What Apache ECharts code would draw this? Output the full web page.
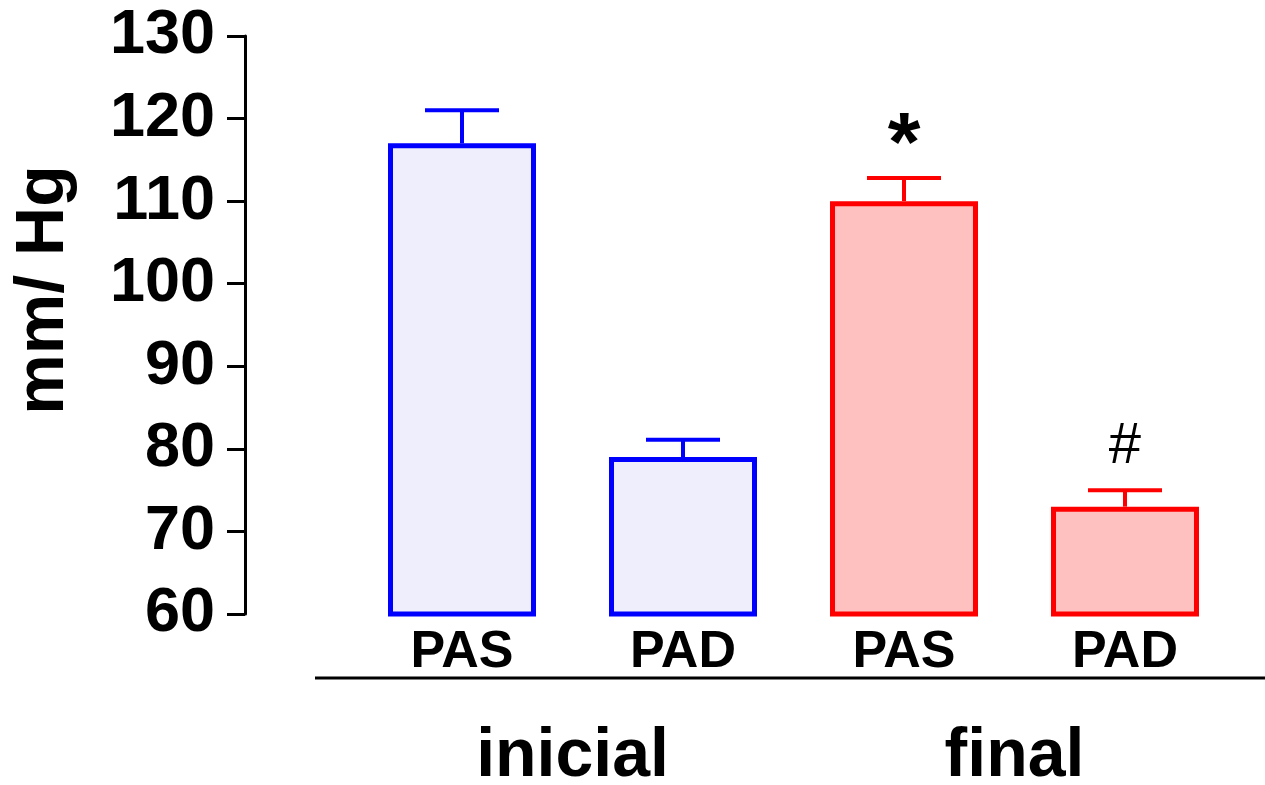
<!DOCTYPE html>
<html>
<head>
<meta charset="utf-8">
<script src="https://cdn.jsdelivr.net/npm/echarts@6/dist/echarts.min.js"></script>
<style>
  html, body { margin: 0; padding: 0; background: #fff; }
  #graf { width: 1265px; height: 785px; }
</style>
</head>
<body>
<div id="graf"></div>
<script>
// datos
var categorias = ['PAS', 'PAD', 'PAS', 'PAD'];
var grupos = ['inicial', 'final'];
var medias = [117, 79, 110, 73];
var errSup = [121, 81.1, 112.8, 75];
var marcas = ['', '', '*', '#'];
var yTicks = [60, 70, 80, 90, 100, 110, 120, 130];

var bordes = ['#0000ff', '#0000ff', '#ff0000', '#ff0000'];
var rellenos = ['#eeeefc', '#eeeefc', '#ffc0c0', '#ffc0c0'];
var fuente = 'Liberation Sans, Arial, sans-serif';

var myChart = echarts.init(document.getElementById('graf'));

var option = {
  animation: false,
  backgroundColor: '#fff',
  grid: { left: 351.5, right: 29.5, top: 36, bottom: 171, containLabel: false, outerBoundsMode: 'none' },
  xAxis: [
    {
      type: 'category',
      data: categorias,
      axisLine: { show: false },
      axisTick: { show: false },
      axisLabel: { margin: 13, color: '#000', fontSize: 52, fontWeight: 'bold', fontFamily: fuente }
    },
    {
      type: 'category',
      data: grupos,
      position: 'bottom',
      axisLine: { show: false },
      axisTick: { show: false },
      axisLabel: { margin: 109, color: '#000', fontSize: 68, fontWeight: 'bold', fontFamily: fuente }
    }
  ],
  yAxis: {
    type: 'value',
    min: yTicks[0],
    max: yTicks[yTicks.length - 1],
    interval: 10,
    offset: 106.5,
    name: 'mm/ Hg',
    nameLocation: 'middle',
    nameRotate: 90,
    nameGap: 167,
    nameTextStyle: { color: '#000', fontSize: 68, fontWeight: 'bold', fontFamily: fuente, padding: [0, 0, 0, 70] },
    splitLine: { show: false },
    axisLine: { show: true, lineStyle: { color: '#000', width: 3 } },
    axisTick: { show: true, length: 18, lineStyle: { color: '#000', width: 3 } },
    axisLabel: { margin: 30, color: '#000', fontSize: 63, fontWeight: 'bold', fontFamily: fuente, padding: [8, 0, 0, 0] }
  },
  graphic: [
    {
      type: 'line',
      shape: { x1: 315, y1: 678, x2: 1265, y2: 678 },
      style: { stroke: '#000', lineWidth: 3 }
    }
  ],
  series: [
    {
      type: 'bar',
      barWidth: 148,
      data: medias.map(function (v, i) {
        return { value: v, itemStyle: { color: rellenos[i], borderColor: bordes[i], borderWidth: 5 } };
      })
    },
    {
      // barras de error y marcas de significancia
      type: 'custom',
      data: medias.map(function (v, i) { return [i, v, errSup[i]]; }),
      z: 5,
      renderItem: function (params, api) {
        var i = params.dataIndex;
        var base = api.coord([api.value(0), api.value(1)]);
        var top = api.coord([api.value(0), api.value(2)]);
        var col = bordes[i];
        var kids = [
          { type: 'line', shape: { x1: base[0], y1: base[1], x2: top[0], y2: top[1] }, style: { stroke: col, lineWidth: 4 } },
          { type: 'line', shape: { x1: top[0] - 37, y1: top[1], x2: top[0] + 37, y2: top[1] }, style: { stroke: col, lineWidth: 4 } }
        ];
        if (marcas[i]) {
          var esAst = marcas[i] === '*';
          kids.push({
            type: 'text',
            x: top[0],
            y: top[1] - (esAst ? 30 : 43),
            style: {
              text: marcas[i],
              fill: '#000',
              font: (esAst ? 'bold 84px ' : '58px ') + fuente,
              align: 'center',
              verticalAlign: 'middle'
            }
          });
        }
        return { type: 'group', children: kids };
      }
    }
  ]
};

myChart.setOption(option);
</script>
</body>
</html>
